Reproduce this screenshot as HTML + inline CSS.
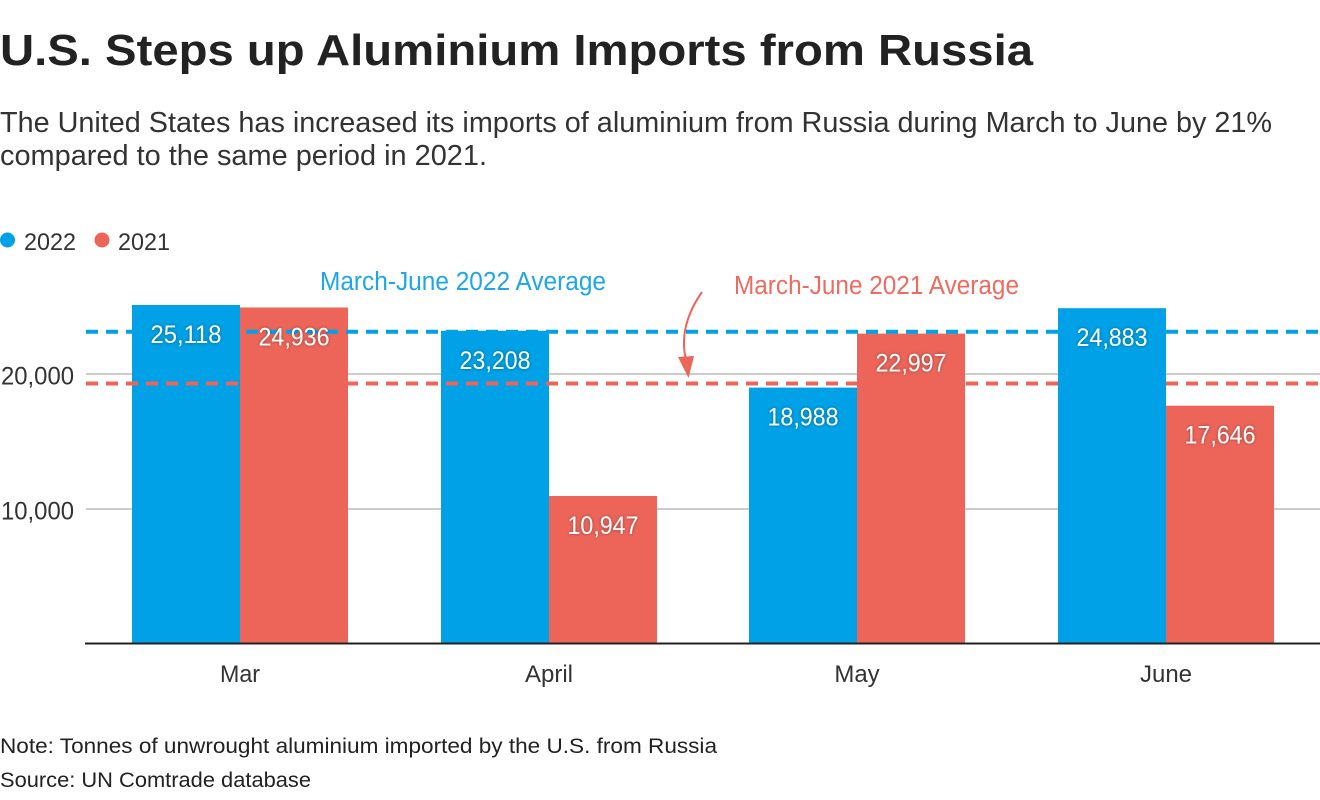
<!DOCTYPE html>
<html>
<head>
<meta charset="utf-8">
<style>
  html, body { margin: 0; padding: 0; background: #fff; }
  svg { display: block; }
  text { font-family: "Liberation Sans", Arial, sans-serif; }
</style>
</head>
<body>
<svg width="1320" height="800" viewBox="0 0 1320 800" xmlns="http://www.w3.org/2000/svg">
  <defs>
    <filter id="sh" x="-20%" y="-40%" width="140%" height="180%">
      <feDropShadow dx="0" dy="0" stdDeviation="1.5" flood-color="#000" flood-opacity="0.4"/>
    </filter>
  </defs>

  <!-- Title -->
  <text x="0" y="65" font-size="44" font-weight="bold" fill="#222" textLength="1033" lengthAdjust="spacingAndGlyphs">U.S. Steps up Aluminium Imports from Russia</text>

  <!-- Subtitle -->
  <text x="0" y="132" font-size="28.5" fill="#333" textLength="1272" lengthAdjust="spacingAndGlyphs">The United States has increased its imports of aluminium from Russia during March to June by 21%</text>
  <text x="0" y="165" font-size="28.5" fill="#333" textLength="487" lengthAdjust="spacingAndGlyphs">compared to the same period in 2021.</text>

  <!-- Legend -->
  <circle cx="7.5" cy="240" r="7.5" fill="#00a1e6"/>
  <text x="24" y="250" font-size="24.5" fill="#333" textLength="52" lengthAdjust="spacingAndGlyphs">2022</text>
  <circle cx="102" cy="240" r="7.5" fill="#ed6559"/>
  <text x="118" y="250" font-size="24.5" fill="#333" textLength="52" lengthAdjust="spacingAndGlyphs">2021</text>

  <!-- Gridlines -->
  <line x1="86" y1="374" x2="1320" y2="374" stroke="#cccccc" stroke-width="2"/>
  <line x1="86" y1="509" x2="1320" y2="509" stroke="#cccccc" stroke-width="2"/>

  <!-- Y axis labels -->
  <text x="74" y="384.5" font-size="25" fill="#333" text-anchor="end" textLength="73" lengthAdjust="spacingAndGlyphs">20,000</text>
  <text x="74" y="519.5" font-size="25" fill="#333" text-anchor="end" textLength="73" lengthAdjust="spacingAndGlyphs">10,000</text>

  <!-- Bars -->
  <rect x="132" y="305" width="108" height="338.5" fill="#00a1e6"/>
  <rect x="240" y="307.5" width="108" height="336" fill="#ed6559"/>
  <rect x="441" y="330.8" width="108" height="312.7" fill="#00a1e6"/>
  <rect x="549" y="496" width="108" height="147.5" fill="#ed6559"/>
  <rect x="749" y="387.6" width="108" height="255.9" fill="#00a1e6"/>
  <rect x="857" y="333.6" width="108" height="309.9" fill="#ed6559"/>
  <rect x="1166" y="405.7" width="108" height="237.8" fill="#ed6559"/>

  <!-- Average dashed lines -->
  <line x1="86" y1="331.7" x2="1320" y2="331.7" stroke="#00a1e6" stroke-width="4" stroke-dasharray="12 8"/>
  <line x1="86" y1="383.5" x2="1320" y2="383.5" stroke="#ed6559" stroke-width="4" stroke-dasharray="12 8"/>

  <!-- June 2022 bar drawn over lines -->
  <rect x="1058" y="308.2" width="108" height="335.3" fill="#00a1e6"/>

  <!-- Baseline -->
  <line x1="85" y1="643.5" x2="1320" y2="643.5" stroke="#222" stroke-width="2"/>

  <!-- Annotations -->
  <text x="320" y="290" font-size="25.5" fill="#1ea6e8" textLength="286" lengthAdjust="spacingAndGlyphs">March-June 2022 Average</text>
  <text x="734" y="294" font-size="25.5" fill="#ee6b60" textLength="285" lengthAdjust="spacingAndGlyphs">March-June 2021 Average</text>
  <path d="M702,292 C688,312 680,335 686,360" fill="none" stroke="#ed6559" stroke-width="2"/>
  <polygon points="678,357 694,356 688.5,378" fill="#ed6559"/>

  <!-- Data labels -->
  <g font-size="25" fill="#ffffff" text-anchor="middle" filter="url(#sh)">
    <text x="186" y="343" textLength="71" lengthAdjust="spacingAndGlyphs">25,118</text>
    <text x="294" y="345.5" textLength="71" lengthAdjust="spacingAndGlyphs">24,936</text>
    <text x="495" y="368.8" textLength="71" lengthAdjust="spacingAndGlyphs">23,208</text>
    <text x="603" y="534" textLength="71" lengthAdjust="spacingAndGlyphs">10,947</text>
    <text x="803" y="425.6" textLength="71" lengthAdjust="spacingAndGlyphs">18,988</text>
    <text x="911" y="371.6" textLength="71" lengthAdjust="spacingAndGlyphs">22,997</text>
    <text x="1112" y="346.2" textLength="71" lengthAdjust="spacingAndGlyphs">24,883</text>
    <text x="1220" y="443.7" textLength="71" lengthAdjust="spacingAndGlyphs">17,646</text>
  </g>

  <!-- X axis labels -->
  <g font-size="24" fill="#333" text-anchor="middle">
    <text x="240" y="682" textLength="40" lengthAdjust="spacingAndGlyphs">Mar</text>
    <text x="549" y="682">April</text>
    <text x="857" y="682">May</text>
    <text x="1166" y="682">June</text>
  </g>

  <!-- Footer -->
  <text x="0" y="753" font-size="21" fill="#222" textLength="717" lengthAdjust="spacingAndGlyphs">Note: Tonnes of unwrought aluminium imported by the U.S. from Russia</text>
  <text x="0" y="787" font-size="21" fill="#222" textLength="311" lengthAdjust="spacingAndGlyphs">Source: UN Comtrade database</text>
</svg>
</body>
</html>
